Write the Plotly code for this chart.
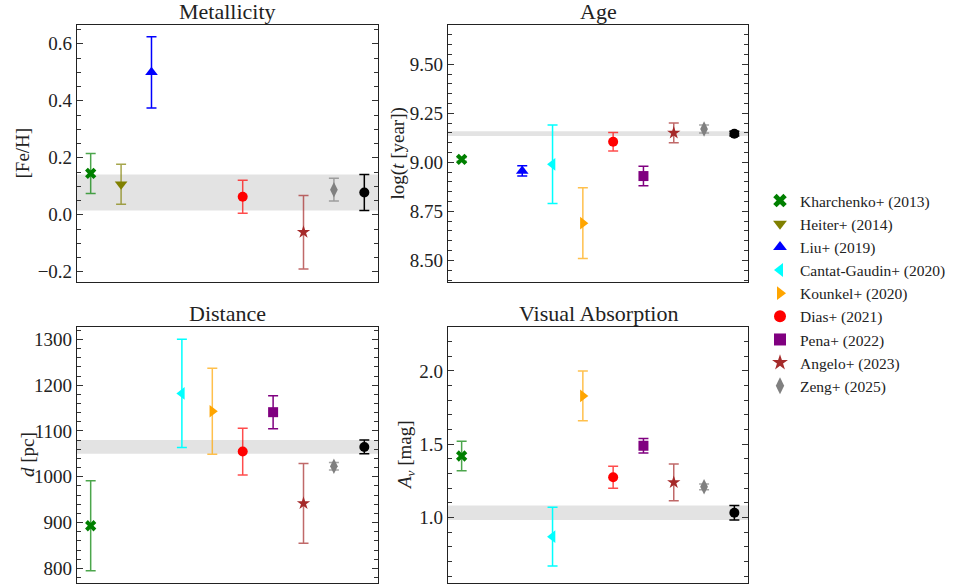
import plotly.graph_objects as go

# ---------------- data ----------------
studies = ["Kharchenko+ (2013)", "Heiter+ (2014)", "Liu+ (2019)", "Cantat-Gaudin+ (2020)",
           "Kounkel+ (2020)", "Dias+ (2021)", "Pena+ (2022)", "Angelo+ (2023)",
           "Zeng+ (2025)", "This work"]
colors = ["green", "olive", "blue", "cyan", "orange", "red", "purple", "brown", "gray", "black"]
symbols = ["x", "triangle-down", "triangle-up", "triangle-left", "triangle-right",
           "circle", "square", "star", "diamond-tall", "circle"]

feh = [0.145, 0.107, 0.50, None, None, 0.063, None, -0.061, 0.088, 0.078]
feh_err = [0.07, 0.07, 0.125, None, None, 0.058, None, 0.129, 0.04, 0.063]

age = [9.015, None, 8.956, 8.99, 8.69, 9.105, 8.93, 9.15, 9.17, 9.146]
age_err = [0.01, None, 0.026, 0.2, 0.18, 0.047, 0.05, 0.05, 0.02, 0.012]

dist = [893, None, None, 1182, 1143, 1055, 1141, 942, 1023, 1065]
dist_err = [98, None, None, 118, 94, 51, 36, 87, 8, 15]

av = [1.42, None, None, 0.87, 1.83, 1.275, 1.49, 1.24, 1.21, 1.033]
av_err = [0.10, None, None, 0.20, 0.17, 0.075, 0.05, 0.125, 0.02, 0.05]

panels = [
    dict(title="Metallicity", vals=feh, errs=feh_err, ylabel="[Fe/H]",
         yrange=[-0.236, 0.666], dtick=0.2, tick0=0.0, minor=0.05, fmt=".1f", tx=22),
    dict(title="Age", vals=age, errs=age_err, ylabel="log(<i>t</i> [year])",
         yrange=[8.39, 9.70], dtick=0.25, tick0=8.5, minor=0.05, fmt=".2f", tx=398),
    dict(title="Distance", vals=dist, errs=dist_err, ylabel="<i>d</i> [pc]",
         yrange=[768, 1327], dtick=100, tick0=800, minor=20, fmt="d", tx=27),
    dict(title="Visual Absorption", vals=av, errs=av_err, ylabel="<i>A<sub>v</sub></i> [mag]",
         yrange=[0.554, 2.30], dtick=0.5, tick0=1.0, minor=0.1, fmt=".1f", tx=406),
]

W, H = 954, 588

def px(xp):
    return xp / W

def py(yp):
    return 1 - yp / H

xdoms = [[px(77), px(378)], [px(448), px(748)]]
ydoms = [[py(282), py(25)], [py(583), py(327)]]

FONT = "Liberation Serif, DejaVu Serif, serif"
TXT = "#222222"

base_rgb = {"green": (0, 128, 0), "olive": (128, 128, 0), "blue": (0, 0, 255),
            "cyan": (0, 255, 255), "orange": (255, 165, 0), "red": (255, 0, 0),
            "purple": (128, 0, 128), "brown": (165, 42, 42), "gray": (128, 128, 128),
            "black": (0, 0, 0)}

def rgba(name, a):
    r, g, b = base_rgb[name]
    return f"rgba({r},{g},{b},{a})"

def msize(sym):
    return {"circle": 10, "square": 10, "star": 10, "x": 10, "diamond-tall": 11}.get(sym, 11)

fig = go.Figure()

# legend entries first (in study order)
for s_i, name in enumerate(studies[:-1]):
    fig.add_trace(go.Scatter(
        x=[None], y=[None], mode="markers", name=name, legendgroup=name, showlegend=True,
        marker=dict(symbol=symbols[s_i], color=colors[s_i], size=msize(symbols[s_i]),
                    line=dict(width=0)),
        xaxis="x", yaxis="y",
    ))

layout_axes = {}
annotations = []
shapes = []

for p_i, p in enumerate(panels):
    row, col = divmod(p_i, 2)
    n = p_i + 1
    xa = "x" if n == 1 else f"x{n}"
    ya = "y" if n == 1 else f"y{n}"
    for s_i, name in enumerate(studies):
        v = p["vals"][s_i]
        if v is None:
            continue
        e = p["errs"][s_i]
        a = 1.0 if colors[s_i] in ("black", "blue", "purple", "cyan") else 0.7
        fig.add_trace(go.Scatter(
            x=[s_i], y=[v], mode="markers", name=name,
            legendgroup=name, showlegend=False,
            marker=dict(symbol=symbols[s_i], color=colors[s_i], size=msize(symbols[s_i]),
                        line=dict(width=0)),
            error_y=dict(type="data", array=[e], visible=True,
                         color=rgba(colors[s_i], a), thickness=1.5, width=5),
            xaxis=xa, yaxis=ya,
        ))
    # band from "this work"
    ov, oe = p["vals"][-1], p["errs"][-1]
    shapes.append(dict(type="rect", xref=f"{xa} domain", yref=ya, x0=0, x1=1,
                       y0=ov - oe, y1=ov + oe, fillcolor="rgba(200,200,200,0.5)",
                       line=dict(width=0), layer="below"))
    key = "" if n == 1 else str(n)
    layout_axes[f"xaxis{key}"] = dict(
        domain=xdoms[col], range=[-0.45, 9.45], showticklabels=False, ticks="",
        showgrid=False, zeroline=False, showline=True, linecolor="#222", linewidth=1.2,
        mirror=True, anchor=ya, automargin=False,
    )
    layout_axes[f"yaxis{key}"] = dict(
        domain=ydoms[row], range=p["yrange"], anchor=xa, automargin=False,
        tickmode="linear", tick0=p["tick0"], dtick=p["dtick"], tickformat=p["fmt"],
        ticks="inside", ticklen=6, tickwidth=1.2, tickcolor="#333",
        minor=dict(ticks="inside", ticklen=3.5, tickwidth=1, dtick=p["minor"],
                   tick0=p["tick0"], tickcolor="#333", showgrid=False),
        showgrid=False, zeroline=False, showline=True, linecolor="#222", linewidth=1.2,
        mirror="allticks", tickfont=dict(family=FONT, size=19, color=TXT),
    )
    annotations.append(dict(
        text=p["ylabel"], xref="paper", yref="paper",
        x=px(p["tx"]), y=(ydoms[row][0] + ydoms[row][1]) / 2,
        xanchor="center", yanchor="middle", textangle=-90, showarrow=False,
        font=dict(family=FONT, size=19, color=TXT),
    ))
    annotations.append(dict(
        text=p["title"], xref="paper", yref="paper",
        x=(xdoms[col][0] + xdoms[col][1]) / 2, y=ydoms[row][1],
        xanchor="center", yanchor="bottom", yshift=-1, showarrow=False,
        font=dict(family=FONT, size=22, color=TXT),
    ))

fig.update_layout(
    width=W, height=H, margin=dict(l=0, r=0, t=0, b=0),
    paper_bgcolor="white", plot_bgcolor="white",
    shapes=shapes, annotations=annotations,
    legend=dict(x=px(760), y=py(184), xanchor="left", yanchor="top",
                font=dict(family=FONT, size=15.5, color=TXT),
                traceorder="grouped", tracegroupgap=0, itemsizing="constant",
                itemwidth=30, bgcolor="rgba(0,0,0,0)"),
    showlegend=True,
    **layout_axes,
)

fig.write_html("out.html",
               config={"displayModeBar": False},
               post_script="document.body.style.margin='0';document.body.style.overflow='hidden';")
